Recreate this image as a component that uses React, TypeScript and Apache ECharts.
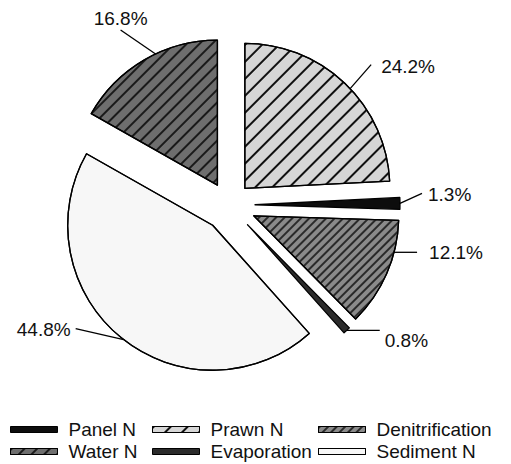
import React, { useEffect, useRef } from "react";
import * as echarts from "echarts";

const categories = ["Prawn N", "Panel N", "Denitrification", "Evaporation", "Sediment N", "Water N"];
const values = [24.2, 1.3, 12.1, 0.8, 44.8, 16.8];
const legendColumns = [
  ["Panel N", "Water N"],
  ["Prawn N", "Evaporation"],
  ["Denitrification", "Sediment N"],
];

const FONT = "'Liberation Sans', Arial, Helvetica, sans-serif";
const CENTER = [229, 205];
const RADIUS = 145;

// explode distance of each slice (layout style)
const explode: Record<string, number> = {
  "Prawn N": 23,
  "Panel N": 26,
  Denitrification: 27,
  Evaporation: 27,
  "Sediment N": 26,
  "Water N": 23,
};

const styles: Record<string, any> = {
  "Prawn N": {
    color: "#d6d6d6",
    decal: { symbol: "rect", symbolSize: 1, dashArrayX: [1, 0], dashArrayY: [1.6, 9.5], rotation: -Math.PI / 4, color: "#111" },
  },
  "Panel N": { color: "#0d0d0d" },
  Denitrification: {
    color: "#8a8a8a",
    decal: { symbol: "rect", symbolSize: 1, dashArrayX: [1, 0], dashArrayY: [1.4, 3.2], rotation: -Math.PI / 4, color: "#2a2a2a" },
  },
  Evaporation: { color: "#2b2b2b" },
  "Sediment N": {
    color: "#f7f7f7",
    decal: { symbol: "circle", symbolSize: 0.3, dashArrayX: [[1, 3], [0, 2, 1, 1]], dashArrayY: [1, 3], rotation: 0, color: "#9a9a9a" },
  },
  "Water N": {
    color: "#6e6e6e",
    decal: { symbol: "rect", symbolSize: 1, dashArrayX: [1, 0], dashArrayY: [1.6, 6.5], rotation: -Math.PI / 4, color: "#1a1a1a" },
  },
};

// label placement: anchor angle shift (deg), line vector, text alignment and offset from line end
const labelPlace: Record<string, { shift: number; vec: [number, number]; align: string; vAlign: string; off: [number, number] }> = {
  "Prawn N": { shift: 3, vec: [21, -24], align: "left", vAlign: "middle", off: [10, 2] },
  "Panel N": { shift: 0, vec: [22, -10], align: "left", vAlign: "middle", off: [6, 1] },
  Denitrification: { shift: -9, vec: [23, 0], align: "left", vAlign: "middle", off: [12, 0] },
  Evaporation: { shift: 0, vec: [33, 0], align: "left", vAlign: "middle", off: [5, 10] },
  "Sediment N": { shift: -1, vec: [-48, -11], align: "right", vAlign: "middle", off: [-5, 1] },
  "Water N": { shift: 5, vec: [-35, -24], align: "center", vAlign: "bottom", off: [0, -2] },
};

export default function App() {
  const ref = useRef<HTMLDivElement>(null);
  useEffect(() => {
    document.body.style.margin = "0";
    const chart = echarts.init(ref.current!, null, { renderer: "svg" });
    const total = values.reduce((a, b) => a + b, 0);
    const rad = (d: number) => (d * Math.PI) / 180;
    const hidden = (v: number) => ({
      name: "",
      value: v,
      itemStyle: { color: "rgba(0,0,0,0)", borderWidth: 0, decal: "none" },
      label: { show: false },
      labelLine: { show: false },
    });
    let cum = 0;
    const series = categories.map((name, i) => {
      const before = cum;
      const after = total - cum - values[i];
      const mid = ((cum + values[i] / 2) / total) * 360;
      cum += values[i];
      const off = explode[name];
      const apex = [CENTER[0] + off * Math.sin(rad(mid)), CENTER[1] - off * Math.cos(rad(mid))];
      const p = labelPlace[name];
      const data: any[] = [];
      if (before > 0) data.push(hidden(before));
      data.push({
        name,
        value: values[i],
        itemStyle: { ...styles[name], borderColor: "#000", borderWidth: 1.3 },
      });
      if (after > 0.0001) data.push(hidden(after));
      return {
        type: "pie",
        name: "slice" + i,
        center: apex,
        radius: RADIUS,
        startAngle: 90,
        clockwise: true,
        silent: true,
        avoidLabelOverlap: false,
        label: {
          show: true,
          position: "outside",
          formatter: "{c}%",
          fontFamily: FONT,
          fontSize: 19,
          color: "#111",
        },
        labelLine: { show: true, length: 15, length2: 10, lineStyle: { color: "#000", width: 1.3 } },
        labelLayout: (params: any) => {
          if (params.seriesIndex !== i) return {};
          const a = rad(mid + p.shift);
          const start = [apex[0] + RADIUS * Math.sin(a), apex[1] - RADIUS * Math.cos(a)];
          const end = [start[0] + p.vec[0], start[1] + p.vec[1]];
          return {
            x: end[0] + p.off[0],
            y: end[1] + p.off[1],
            align: p.align,
            verticalAlign: p.vAlign,
            labelLinePoints: [start, end],
          };
        },
        emphasis: { disabled: true },
        data,
      };
    });
    chart.setOption({
      animation: false,
      backgroundColor: "#fff",
      legend: legendColumns.map((col, i) => ({
        orient: "vertical",
        left: [10, 152, 318][i],
        top: 420,
        padding: 0,
        data: col,
        icon: "rect",
        itemWidth: 47,
        itemHeight: 6,
        itemGap: 3,
        selectedMode: false,
        textStyle: { fontFamily: FONT, fontSize: 19, color: "#111", padding: [0, 0, 0, 6] },
        itemStyle: { borderColor: "#000", borderWidth: 1 },
      })),
      series,
    });
    return () => chart.dispose();
  }, []);
  return <div ref={ref} style={{ width: 511, height: 464 }} />;
}
